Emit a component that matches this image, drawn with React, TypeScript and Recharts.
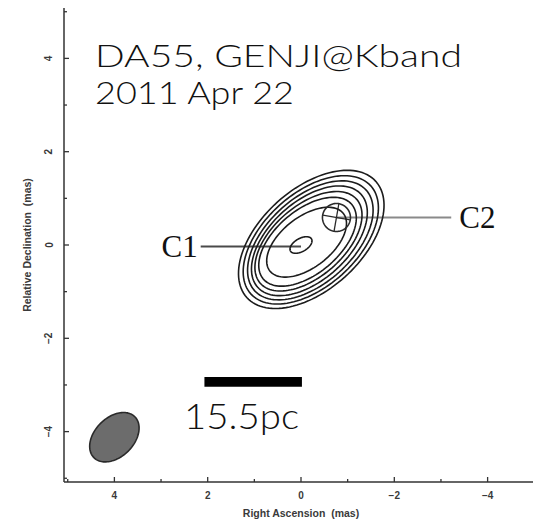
import { ScatterChart, Scatter, XAxis, YAxis, ReferenceLine, ReferenceArea, ReferenceDot } from 'recharts';

// axis ticks (mas); even values get a label, odd values are minor ticks
const raTicks = [5, 4, 3, 2, 1, 0, -1, -2, -3, -4, -5];
const decTicks = [-5, -4, -3, -2, -1, 0, 1, 2, 3, 4, 5];
const axisDomain: [number, number] = [-5.08, 5.08];

// clean-map contours: centre (RA, Dec), semi-axes and position angle (deg, E of N)
const contourRa = [-0.22, -0.21, -0.2, -0.18, -0.16, -0.14, -0.12, 0.0];
const contourDec = [0.12, 0.11, 0.1, 0.09, 0.08, 0.07, 0.06, 0.0];
const contourMajor = [1.86, 1.73, 1.61, 1.49, 1.37, 1.24, 1.0, 0.26];
const contourMinor = [1.08, 1.0, 0.92, 0.84, 0.76, 0.68, 0.54, 0.14];
const contourPa = [-48, -48, -48, -48, -49, -50, -52, -60];

// restoring beam
const beamCenter = [4.0, -4.12];
const beamAxes = [0.62, 0.42];
const beamPa = -45;

// model components
const c1Pos = [0.0, -0.03];
const c1LabelAt = 2.15;
const c2Pos = [-0.76, 0.59];
const c2Radius = 0.3;
const c2LabelAt = -3.22;

// scale bar (2 mas = 15.5 pc)
const scaleBarRa = [2.07, -0.02];
const scaleBarDec = [-2.83, -3.04];

const titleLines = ['DA55, GENJI@Kband', '2011 Apr 22'];
const scaleLabel = '15.5pc';

const tickFont = { fontFamily: 'Liberation Sans, Arial, sans-serif', fontSize: 10, fontWeight: 700, fill: '#3a3a3a' };
const frame = '#333';

function ellipse(ra: number, dec: number, a: number, b: number, paDeg: number, n = 120) {
  const pa = (paDeg * Math.PI) / 180;
  const pts: { x: number; y: number }[] = [];
  for (let i = 0; i <= n; i++) {
    const t = (2 * Math.PI * i) / n;
    const u = a * Math.cos(t);
    const v = b * Math.sin(t);
    pts.push({ x: ra + u * Math.sin(pa) + v * Math.cos(pa), y: dec + u * Math.cos(pa) - v * Math.sin(pa) });
  }
  return pts;
}

const fmt = (v: number) => (v < 0 ? `\u2212${-v}` : `${v}`);
const isMajor = (v: number) => Math.abs(v) % 2 === 0;
const noDot = () => <g />;

function BottomTick({ x, y, payload }: any) {
  const v = payload.value;
  return (
    <g>
      <line x1={x} y1={y} x2={x} y2={y - (isMajor(v) ? 5 : 3)} stroke={frame} strokeWidth={1.3} />
      {isMajor(v) && (
        <text x={x} y={y + 13} textAnchor="middle" dominantBaseline="central" {...tickFont}>
          {fmt(v)}
        </text>
      )}
    </g>
  );
}

function TopTick({ x, y, payload }: any) {
  const v = payload.value;
  return <line x1={x} y1={y} x2={x} y2={y + (isMajor(v) ? 6 : 3)} stroke={frame} strokeWidth={1.3} />;
}

function LeftTick({ x, y, payload }: any) {
  const v = payload.value;
  return (
    <g>
      <line x1={x} y1={y} x2={x + (isMajor(v) ? 5 : 3)} y2={y} stroke={frame} strokeWidth={1.3} />
      {isMajor(v) && (
        <text
          x={x - 15}
          y={y}
          transform={`rotate(-90 ${x - 15} ${y})`}
          textAnchor="middle"
          dominantBaseline="central"
          {...tickFont}
        >
          {fmt(v)}
        </text>
      )}
    </g>
  );
}

function RightTick({ x, y, payload }: any) {
  const v = payload.value;
  return <line x1={x} y1={y} x2={x - (isMajor(v) ? 6 : 3)} y2={y} stroke={frame} strokeWidth={1.3} />;
}

const labelFont = 'Lato, "Open Sans", sans-serif';
const serif = '"Liberation Serif", "DejaVu Serif", serif';

export default function App() {
  const contours = contourRa.map((ra, i) =>
    ellipse(ra, contourDec[i], contourMajor[i], contourMinor[i], contourPa[i])
  );
  const beam = ellipse(beamCenter[0], beamCenter[1], beamAxes[0], beamAxes[1], beamPa);
  const c2 = ellipse(c2Pos[0], c2Pos[1], c2Radius, c2Radius, 0);

  return (
    <div style={{ position: 'relative', width: 533, height: 520, overflow: 'hidden', background: '#fff' }}>
      <style>{'body{margin:0}'}</style>
      <ScatterChart width={545} height={520} margin={{ top: 8, right: 7, bottom: 0, left: 0 }}>
        <XAxis
          type="number"
          dataKey="x"
          domain={axisDomain}
          reversed
          ticks={raTicks}
          interval={0}
          allowDataOverflow
          height={38}
          tickSize={0}
          tickMargin={0}
          tickLine={false}
          tick={<BottomTick />}
          axisLine={{ stroke: frame, strokeWidth: 1.5 }}
          label={{
            value: 'Right Ascension\u00a0\u00a0(mas)',
            position: 'insideBottom',
            offset: 3,
            ...tickFont,
            fontSize: 10.5,
          }}
        />
        <XAxis
          xAxisId="top"
          orientation="top"
          type="number"
          dataKey="x"
          domain={axisDomain}
          reversed
          ticks={raTicks}
          interval={0}
          allowDataOverflow
          height={0}
          tickSize={0}
          tickMargin={0}
          tickLine={false}
          tick={<TopTick />}
          axisLine={{ stroke: frame, strokeWidth: 1.5 }}
        />
        <YAxis
          type="number"
          dataKey="y"
          domain={axisDomain}
          ticks={decTicks}
          interval={0}
          allowDataOverflow
          width={64}
          tickSize={0}
          tickMargin={0}
          tickLine={false}
          tick={<LeftTick />}
          axisLine={{ stroke: frame, strokeWidth: 1.5 }}
          label={{
            value: 'Relative Declination\u00a0\u00a0(mas)',
            position: 'insideLeft',
            angle: -90,
            offset: 27,
            style: { textAnchor: 'middle' },
            ...tickFont,
            fontSize: 10.5,
          }}
        />
        <YAxis
          yAxisId="right"
          orientation="right"
          type="number"
          dataKey="y"
          domain={axisDomain}
          ticks={decTicks}
          interval={0}
          allowDataOverflow
          width={0}
          tickSize={0}
          tickMargin={0}
          tickLine={false}
          tick={<RightTick />}
          axisLine={{ stroke: frame, strokeWidth: 1.5 }}
        />

        {contours.map((pts, i) => (
          <Scatter
            key={i}
            data={pts}
            line={{ stroke: '#1c1c1c', strokeWidth: 1.6 }}
            shape={noDot}
            isAnimationActive={false}
          />
        ))}

        <Scatter
          data={beam}
          line={{ stroke: '#2a2a2a', strokeWidth: 1.6, fill: '#6c6c6c' }}
          shape={noDot}
          isAnimationActive={false}
        />

        <ReferenceLine
          segment={[
            { x: c1LabelAt, y: c1Pos[1] },
            { x: c1Pos[0], y: c1Pos[1] },
          ]}
          stroke="#4a4a4a"
          strokeWidth={2}
        />
        <ReferenceLine
          segment={[
            { x: c2Pos[0], y: c2Pos[1] },
            { x: c2LabelAt, y: c2Pos[1] },
          ]}
          stroke="#8a8a8a"
          strokeWidth={2}
        />

        <Scatter
          data={c2}
          line={{ stroke: '#2a2a2a', strokeWidth: 1.6 }}
          shape={noDot}
          isAnimationActive={false}
        />
        <ReferenceLine
          segment={[
            { x: c2Pos[0] + c2Radius * 0.98, y: c2Pos[1] + c2Radius * 0.17 },
            { x: c2Pos[0] - c2Radius * 0.98, y: c2Pos[1] - c2Radius * 0.17 },
          ]}
          stroke="#2a2a2a"
          strokeWidth={1.3}
        />
        <ReferenceLine
          segment={[
            { x: c2Pos[0] - c2Radius * 0.17, y: c2Pos[1] + c2Radius * 0.98 },
            { x: c2Pos[0] + c2Radius * 0.17, y: c2Pos[1] - c2Radius * 0.98 },
          ]}
          stroke="#2a2a2a"
          strokeWidth={1.3}
        />

        <ReferenceDot
          x={c1LabelAt}
          y={c1Pos[1]}
          r={0}
          stroke="none"
          label={{ value: 'C1', position: 'left', offset: 3, fontFamily: serif, fontSize: 31, fill: '#111' }}
        />
        <ReferenceDot
          x={c2LabelAt}
          y={c2Pos[1]}
          r={0}
          stroke="none"
          label={{ value: 'C2', position: 'right', offset: 8, fontFamily: serif, fontSize: 31, fill: '#111' }}
        />

        <ReferenceArea
          x1={scaleBarRa[0]}
          x2={scaleBarRa[1]}
          y1={scaleBarDec[0]}
          y2={scaleBarDec[1]}
          fill="#000"
          fillOpacity={1}
          stroke="none"
        />
      </ScatterChart>

      <svg width={533} height={520} style={{ position: 'absolute', left: 0, top: 0, pointerEvents: 'none' }}>
        <text x={95} y={66.5} fontFamily={labelFont} fontSize={31} fontWeight={300} fill="#111" textLength={367} lengthAdjust="spacingAndGlyphs">
          {titleLines[0]}
        </text>
        <text x={95} y={104} fontFamily={labelFont} fontSize={31} fontWeight={300} fill="#111" textLength={199} lengthAdjust="spacingAndGlyphs">
          {titleLines[1]}
        </text>
        <text x={184} y={429} fontFamily={labelFont} fontSize={35} fontWeight={300} fill="#111" textLength={115} lengthAdjust="spacingAndGlyphs">
          {scaleLabel}
        </text>
      </svg>
    </div>
  );
}
